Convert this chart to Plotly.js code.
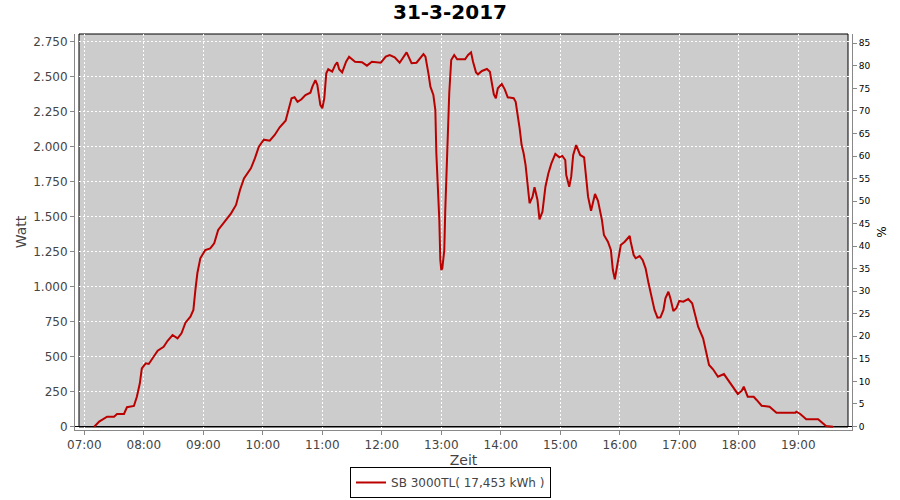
<!DOCTYPE html>
<html>
<head>
<meta charset="utf-8">
<script src="https://cdn.plot.ly/plotly-3.0.1.min.js"></script>
<style>
  html, body { margin: 0; padding: 0; background: #ffffff; }
  #chart { width: 900px; height: 500px; }
</style>
</head>
<body>
<div id="chart"></div>
<script>
// ---- data ----
const day = "2017-03-31";
const times = [
  "07:10","07:15","07:23","07:30","07:33","07:40","07:43","07:50","07:53","07:56","07:58",
  "08:02","08:05","08:10","08:14","08:20","08:24","08:29","08:34","08:38","08:42","08:47","08:50","08:52","08:54","08:57",
  "09:02","09:07","09:11","09:15","09:21","09:28","09:33","09:37","09:41","09:48","09:52","09:56",
  "10:01","10:07","10:12","10:17","10:23","10:26","10:29","10:32","10:35","10:39","10:43","10:48","10:50","10:53","10:55","10:58",
  "11:00","11:02","11:04","11:06","11:10","11:13","11:15","11:17","11:20","11:24","11:27","11:33","11:40","11:45","11:50","11:59",
  "12:04","12:08","12:13","12:18","12:22","12:25","12:30","12:35","12:42","12:44","12:47","12:49","12:52","12:54","12:55","12:57","12:58","12:59",
  "13:00","13:01","13:03","13:04","13:06","13:08","13:10","13:13","13:16","13:21","13:24","13:27","13:30","13:32","13:35","13:37","13:41","13:46","13:49","13:51","13:53","13:55","13:57",
  "14:01","14:04","14:07","14:13","14:15","14:17","14:19","14:21","14:23","14:25","14:27","14:29","14:32","14:34","14:37","14:39","14:42","14:45","14:48","14:51","14:55","14:59",
  "15:02","15:05","15:06","15:09","15:11","15:13","15:16","15:18","15:20","15:24","15:26","15:28","15:31","15:33","15:35","15:38","15:42","15:44","15:48","15:51","15:53","15:55","15:58",
  "16:01","16:05","16:10","16:11","16:14","16:16","16:20","16:23","16:26","16:29","16:32","16:35","16:38","16:41","16:44","16:46","16:49","16:51","16:54","16:57",
  "17:00","17:04","17:09","17:13","17:16","17:19","17:24","17:27","17:30","17:34","17:39","17:45","17:49","17:54","17:59",
  "18:03","18:05","18:09","18:15","18:18","18:23","18:31","18:38","18:57","18:58",
  "19:02","19:08","19:20","19:25","19:28","19:35"
];
const watt = [
  0,36,71,71,91,91,139,148,214,310,417,
  453,448,500,543,571,614,655,631,667,743,786,834,976,1096,1203,
  1262,1274,1310,1405,1464,1524,1584,1691,1774,1846,1917,2000,
  2050,2043,2084,2139,2186,2262,2346,2353,2321,2339,2369,2386,2429,2476,2441,2298,
  2274,2346,2524,2553,2536,2584,2603,2553,2531,2607,2643,2607,2603,2579,2607,2600,
  2643,2655,2639,2600,2648,2674,2596,2600,2662,2643,2524,2429,2369,2262,1953,1691,1476,1191,
  1119,1130,1260,1548,1976,2381,2619,2655,2624,2626,2624,2655,2674,2607,2531,2517,2541,2555,2536,2453,2374,2346,2417,
  2448,2410,2353,2346,2321,2239,2131,2012,1953,1869,1739,1596,1643,1710,1619,1481,1536,1714,1810,1881,1948,1924,
  1934,1905,1798,1714,1786,1941,2012,1981,1941,1924,1798,1643,1543,1596,1662,1614,1476,1369,1321,1262,1119,1053,1180,
  1298,1321,1362,1321,1226,1203,1219,1191,1131,1024,917,834,779,781,834,917,964,917,826,846,
  898,893,912,881,798,714,631,536,441,410,357,376,334,286,234,
  257,286,214,214,191,150,143,100,100,107,
  91,53,53,24,5,0
];
const seriesName = "SB 3000TL( 17,453 kWh )";
const chartTitle = "31-3-2017";
const xTitle = "Zeit";
const yTitle = "Watt";
const y2Title = "%";
const wattTicks = [0,250,500,750,1000,1250,1500,1750,2000,2250,2500,2750];
const pctTicks = [0,5,10,15,20,25,30,35,40,45,50,55,60,65,70,75,80,85];

const xs = times.map(t => day + " " + t);

const FONT = "DejaVu Sans";
const axisGray = "#888888";
const labelGray = "#444444";

const traces = [
  {
    x: xs, y: watt, type: "scatter", mode: "lines",
    name: seriesName,
    line: { color: "#bb0000", width: 2 },
    hoverinfo: "x+y"
  },
  {
    x: [xs[0]], y: [0], type: "scatter", mode: "lines",
    yaxis: "y2", showlegend: false, hoverinfo: "skip",
    line: { width: 0 }
  }
];

const layout = {
  width: 900, height: 500,
  margin: { l: 75, r: 48, t: 34, b: 70, pad: 0, autoexpand: false },
  paper_bgcolor: "#ffffff",
  plot_bgcolor: "#ffffff",
  separators: ",.",
  font: { family: FONT, size: 12, color: labelGray },
  title: {
    text: "<b>" + chartTitle + "</b>",
    font: { family: FONT, size: 20, color: "#000000" },
    x: 0.5, xref: "container", xanchor: "center",
    y: 0.976, yref: "container", yanchor: "middle"
  },
  xaxis: {
    type: "date",
    range: [day + " 06:50:37", day + " 19:54:09"],
    tick0: day + " 07:00", dtick: 3600000,
    tickformat: "%H:%M",
    showline: true, linecolor: axisGray, linewidth: 1,
    ticks: "outside", ticklen: 4, tickcolor: axisGray, tickwidth: 1,
    tickfont: { family: FONT, size: 12, color: labelGray },
    showgrid: true, gridcolor: "#ffffff", gridwidth: 1, griddash: "2px,2px",
    zeroline: false, automargin: false,
    title: { text: xTitle, font: { family: FONT, size: 14, color: labelGray }, standoff: 3 },
    fixedrange: true
  },
  yaxis: {
    range: [-23.6, 2805],
    tickvals: wattTicks,
    tickformat: ",d",
    showline: true, linecolor: axisGray, linewidth: 1,
    ticks: "outside", ticklen: 4, tickcolor: axisGray, tickwidth: 1,
    tickfont: { family: FONT, size: 12, color: labelGray },
    showgrid: true, gridcolor: "#ffffff", gridwidth: 1, griddash: "2px,2px",
    zeroline: true, zerolinecolor: "#000000", zerolinewidth: 1, automargin: false,
    title: { text: yTitle, font: { family: FONT, size: 14, color: labelGray }, standoff: 3 },
    fixedrange: true
  },
  yaxis2: {
    overlaying: "y", side: "right", anchor: "x",
    range: [-0.78, 87.07],
    tickvals: pctTicks,
    showline: true, linecolor: axisGray, linewidth: 1,
    ticks: "outside", ticklen: 4, tickcolor: axisGray, tickwidth: 1,
    tickfont: { family: FONT, size: 9, color: "#000000" },
    showgrid: false, zeroline: false, automargin: false,
    title: { text: y2Title, font: { family: FONT, size: 12, color: "#000000" }, standoff: 8 },
    fixedrange: true
  },
  shapes: [
    {
      type: "rect", layer: "below", xref: "paper", yref: "paper",
      x0: 4/777, x1: 773/777, y0: 3/396, y1: 1,
      fillcolor: "#cccccc", line: { color: "#000000", width: 1 }
    }
  ],
  showlegend: true,
  legend: {
    orientation: "h",
    x: 0.4833, xanchor: "center",
    y: -0.1717, yanchor: "bottom",
    bordercolor: "#000000", borderwidth: 1,
    bgcolor: "#ffffff",
    font: { family: FONT, size: 12, color: labelGray },
    itemwidth: 30
  }
};

Plotly.newPlot("chart", traces, layout, { displayModeBar: false, staticPlot: true });
</script>
</body>
</html>
